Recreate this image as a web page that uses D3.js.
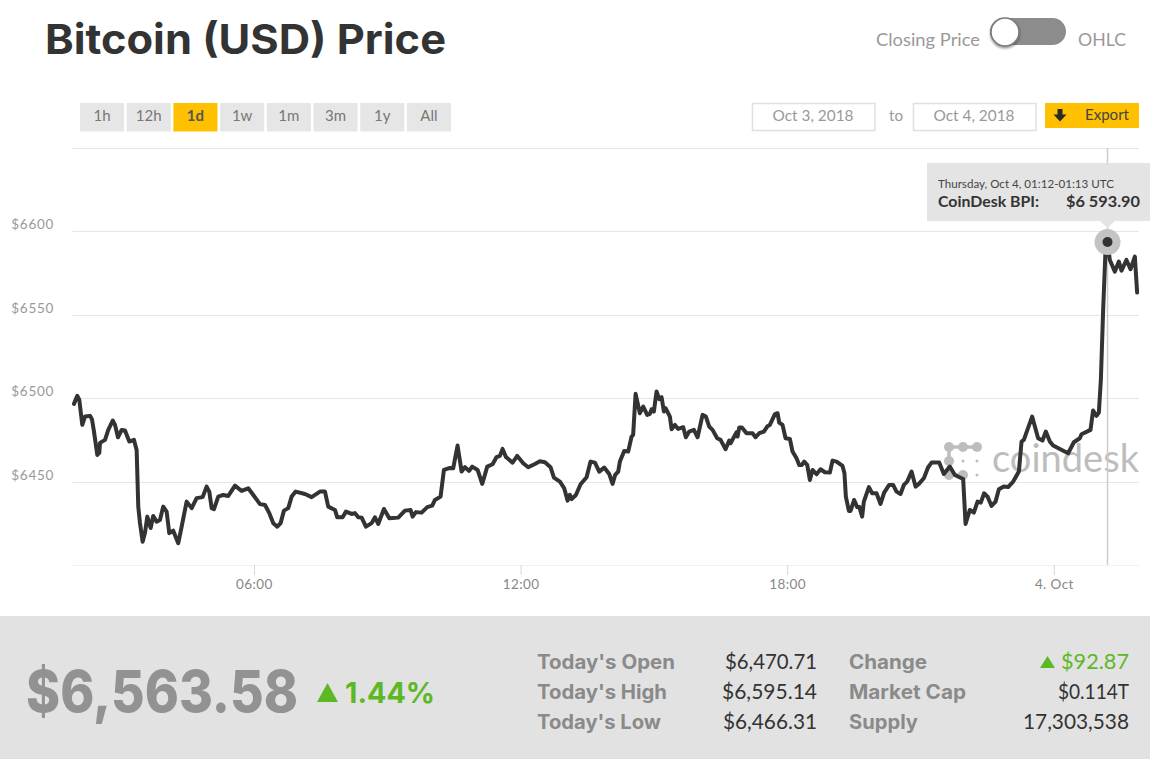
<!DOCTYPE html>
<html><head><meta charset="utf-8">
<script src="https://cdn.jsdelivr.net/npm/d3@7"></script>
<style>html,body{margin:0;padding:0;background:#fff}svg{display:block}text{font-family:Lato,"Open Sans",sans-serif}.heavy{font-family:Inter,Lato,sans-serif}</style>
</head><body><svg id="c" width="1150" height="759"></svg>
<script>
// minutes since 2018-10-03 00:00 UTC
const minutes = [117,121.5,124.2,128.2,131.9,138.6,141.3,144,148.5,151.2,152.1,158.9,163.3,169.3,172.4,176.4,181.4,185.9,191.7,198,201.6,203.8,206.1,209.7,212.9,216,220.5,224,228.6,233.1,237.5,242.1,245.7,251,257.8,262.4,269.1,275.9,282.6,290.7,296.1,299.7,302.9,306,311.8,318.6,325.3,334.4,343.4,352.3,359.1,368.1,374.9,380.7,386.1,391.5,396,400.5,406.3,410.9,416.3,428.9,437.9,449.1,455.9,460.3,469.4,472.5,479.7,484.2,491.9,496.4,500.8,505.4,511.2,518.9,523.4,527.8,535.5,542.7,554.8,563.9,571.5,574.2,578.7,586.4,594,600.7,604.4,612,616.5,624.6,629,634.9,640.4,644.9,650.3,654.7,662,668.2,675,682.2,687.6,692.1,695.7,700.2,709.2,715.5,723.6,730.3,739.4,746.1,752.9,760.5,765,773.1,778.9,783.5,786.6,788.9,794.7,801,809.1,814.5,820.4,826.2,832.9,839.7,844.2,847.7,851.8,854.1,859.9,865.3,869.9,872,875.3,881.1,885.6,891,894.6,896.9,900,903.6,907.2,910.4,913.5,915.8,921.6,923.9,928.4,932.8,939.6,943.2,947.7,954,959,965.7,970.2,974.7,979.2,985.5,990,996.8,1001.7,1003.5,1011.6,1013,1015.2,1018.8,1025.1,1033.2,1037.3,1042.2,1048.5,1053,1056.6,1063.4,1067,1069.2,1073.7,1077.8,1083.6,1087.2,1092.6,1096.2,1099.8,1102.9,1107,1110.6,1114.2,1119.6,1125,1130.9,1137.6,1141.2,1146.6,1154.7,1157.3,1159.2,1163.3,1165.5,1170.4,1174.5,1177.4,1181.2,1183.5,1190.3,1194.7,1200.6,1206,1210.9,1217.7,1223,1227.6,1233,1237.5,1242,1247.9,1253.3,1257.8,1264.5,1270.3,1274.9,1285.2,1291.5,1299.6,1306.4,1317.6,1320.8,1326.6,1332,1337,1341.4,1345.9,1350.5,1355.9,1361.3,1365.8,1372.5,1378.3,1385.1,1392.8,1396.4,1399.5,1410.7,1418.8,1424.7,1429.2,1434.6,1439,1459.3,1467,1475.1,1477.4,1489.5,1493,1497.6,1500.8,1503.5,1506.6,1509.8,1512.5,1515.6,1522.4,1527.8,1531.4,1538.1,1543.5,1549.4,1552.5];
const prices = [6496.9,6501.7,6499.3,6484.3,6489.3,6489.7,6487.7,6480.3,6466.3,6467.5,6473.5,6475.3,6481.3,6486.9,6484.3,6476.9,6481.3,6480.9,6474.3,6475.3,6469.3,6435.3,6425.5,6414.3,6419.6,6429.3,6422.5,6429.7,6426.3,6427.3,6435.3,6432.3,6419.4,6420.9,6413.4,6423.3,6438.3,6434.4,6440.4,6441,6447.3,6444.3,6434.4,6433.8,6441.3,6442.3,6441.7,6447.9,6444.7,6446.3,6442.3,6436.8,6436.3,6431.4,6425.4,6423.3,6425.4,6432.9,6434.4,6441.3,6444.3,6442.9,6441,6444.3,6444.3,6435.3,6433.3,6428.9,6428.9,6432.3,6430.9,6431.4,6428.9,6428.7,6423.3,6425.4,6428.9,6424.9,6433.9,6428.4,6428.7,6432.9,6433.3,6429.3,6432,6431.7,6435,6435.9,6439.3,6441.3,6457.3,6458.5,6458.3,6471.9,6456.3,6459,6456.7,6459.3,6457.3,6448.9,6459.3,6460.7,6465,6465.7,6469.9,6465,6461.7,6465.7,6461.3,6458.9,6460.9,6462.5,6461.9,6458.9,6452.7,6450.3,6446.3,6438.9,6442.3,6439.8,6442.3,6448.7,6452.9,6462.3,6461.7,6456.3,6458.7,6454.9,6448.9,6454.3,6456.3,6462.3,6468.7,6468.3,6477.3,6478.3,6502.9,6491.3,6495.3,6490.3,6490.9,6493.7,6492.3,6504.3,6499.7,6500.9,6492.3,6494.3,6489.3,6481.7,6484.3,6481.9,6482.9,6476.9,6480.3,6481.3,6476.9,6490.3,6489.3,6483.3,6481.3,6476.3,6475.3,6469.7,6474.9,6473.3,6479.9,6477.3,6482.7,6482.7,6479.3,6479.3,6476.9,6479.3,6480.3,6483.3,6484.3,6490.7,6491.3,6485.7,6484.3,6476.3,6475.9,6468.3,6464.3,6460.3,6460.3,6462.3,6460.3,6451.3,6457.3,6454.7,6457.7,6455.9,6455.7,6462.9,6462.3,6459.7,6455.3,6441.3,6432.7,6432.7,6439.3,6435,6435.1,6429.3,6438.3,6447,6443.3,6443.3,6436.9,6443.7,6448.3,6448.3,6444.3,6442.9,6448.3,6450.3,6456.3,6447.3,6448.9,6452.3,6458.9,6461.7,6461.7,6454.9,6459.3,6454.3,6451.9,6424.9,6433.3,6431.7,6438.3,6437.7,6443.3,6441.3,6435.7,6438.3,6445.7,6447.3,6447,6450.3,6456.3,6474.3,6475.3,6489.3,6476.3,6474.9,6480.3,6474.3,6471.9,6467.3,6473.9,6476.3,6478.7,6481.3,6492.9,6489.7,6491.7,6511.3,6553.3,6589.2,6593.9,6583.2,6576.2,6582.2,6576.8,6583.2,6577.6,6585.2,6563.6];

const priceTicks = [6450,6500,6550,6600];
const gridValues = [6400,6450,6500,6550,6600,6650];
const timeTicks = [360,720,1080,1440];
const timeLabels = ["06:00","12:00","18:00","4. Oct"];
const rangeButtons = ["1h","12h","1d","1w","1m","3m","1y","All"];
const activeButton = "1d";
const hoverMinute = 1512.5, hoverPrice = 6593.9;
const statLabelsLeft = ["Today's Open","Today's High","Today's Low"];
const statValuesLeft = ["$6,470.71","$6,595.14","$6,466.31"];
const statLabelsRight = ["Change","Market Cap","Supply"];
const statValuesRight = ["$92.87","$0.114T","17,303,538"];
const labelWidthsLeft = [138,130,124];
const labelWidthsRight = [78,117,69];
const valueWidthsLeft = [92,95,94];
const valueWidthsRight = [68,71,106];

const svg = d3.select("#c");
const x = d3.scaleLinear().domain([115,1555]).range([72.5,1139]);
const y = d3.scaleLinear().domain([6400,6650]).range([565.5,148.5]);

function T(s,px,py,size,fill,opts){
  opts=opts||{};
  const t=svg.append("text").attr("x",px).attr("y",py).attr("font-size",size).attr("fill",fill).text(s);
  if(opts.weight)t.attr("font-weight",opts.weight);
  if(opts.anchor)t.attr("text-anchor",opts.anchor);
  if(opts.cls)t.attr("class",opts.cls);
  if(opts.len)t.attr("textLength",opts.len).attr("lengthAdjust","spacingAndGlyphs");
  return t;
}

// header
T("Bitcoin (USD) Price",45,54,41.5,"#333",{weight:700,len:401,cls:"heavy"});
T("Closing Price",876,46,17,"#999",{len:104});
T("OHLC",1078,46,17,"#999",{len:48});
svg.append("rect").attr("x",990).attr("y",18).attr("width",76).attr("height",27).attr("rx",13.5).attr("fill","#8c8c8c");
const defs=svg.append("defs");
const f=defs.append("filter").attr("id","sh").attr("x","-30%").attr("y","-30%").attr("width","160%").attr("height","160%");
f.append("feDropShadow").attr("dx",0).attr("dy",1.5).attr("stdDeviation",1.2).attr("flood-color","#000").attr("flood-opacity",.45);
svg.append("circle").attr("cx",1005).attr("cy",32).attr("r",14).attr("fill","#fff").attr("stroke","#7a7a7a").attr("stroke-width",1.5).attr("filter","url(#sh)");

// range buttons
const bx=d3.scaleBand().domain(rangeButtons).range([80,451]).paddingInner(0.057).paddingOuter(0);
rangeButtons.forEach(b=>{
  const on=b===activeButton;
  svg.append("rect").attr("x",bx(b)).attr("y",103).attr("width",bx.bandwidth()).attr("height",28.5).attr("fill",on?"#ffc000":"#e6e6e6");
  T(b,bx(b)+bx.bandwidth()/2,121,15,on?"#555":"#777",{anchor:"middle",weight:on?700:400});
});

// date inputs & export
[[752,"Oct 3, 2018"],[913,"Oct 4, 2018"]].forEach(d=>{
  svg.append("rect").attr("x",d[0]+.5).attr("y",103.5).attr("width",122.5).attr("height",27).attr("fill","#fff").attr("stroke","#e0e0e0").attr("stroke-width",1.5);
  T(d[1],d[0]+61,121,16,"#999",{anchor:"middle",len:81});
});
T("to",889,121,16,"#999",{len:14});
svg.append("rect").attr("x",1045).attr("y",103).attr("width",94).attr("height",25).attr("fill","#ffc000");
svg.append("path").attr("d","M1057.5 109h5v5.5h4l-6.5 7-6.5-7h4z").attr("fill","#2a2a2a");
T("Export",1085,120,15,"#444",{len:44});

// grid
const gridG=svg.append("g");
gridG.selectAll("line").data(gridValues).join("line")
  .attr("x1",x.range()[0]).attr("x2",x.range()[1])
  .attr("y1",d=>Math.floor(y(d))+.5).attr("y2",d=>Math.floor(y(d))+.5)
  .attr("stroke",d=>d===6400?"#f2f2f2":"#e6e6e6").attr("stroke-width",1);

// y axis labels
const yAxis=svg.append("g").attr("transform","translate(54,0)")
  .call(d3.axisLeft(y).tickValues(priceTicks).tickSize(0).tickPadding(0).tickFormat(d=>"$"+d));
yAxis.select(".domain").remove();
yAxis.selectAll("text").attr("dy",-3).attr("font-size",13.5).attr("fill","#999").attr("letter-spacing",0.7).style("font-family","Lato,sans-serif");

// x axis
const xAxis=svg.append("g").attr("transform","translate(0,565)")
  .call(d3.axisBottom(x).tickValues(timeTicks).tickSize(10).tickPadding(4).tickFormat((d,i)=>timeLabels[i]));
xAxis.select(".domain").remove();
xAxis.selectAll("line").attr("stroke","#ccd6eb");
xAxis.selectAll("text").attr("font-size",13.5).attr("fill","#888").attr("letter-spacing",0.4).style("font-family","Lato,sans-serif");

// watermark
const wm="#bdbdbd";
svg.append("path").attr("d","M949 447H977M949 447V475H963").attr("fill","none").attr("stroke",wm).attr("stroke-width",3.5);
[[949,447],[963,447],[977,447],[949,461],[949,475],[963,475]].forEach(p=>svg.append("circle").attr("cx",p[0]).attr("cy",p[1]).attr("r",5).attr("fill",wm));
[[963,461],[977,461],[977,475]].forEach(p=>svg.append("circle").attr("cx",p[0]).attr("cy",p[1]).attr("r",1.5).attr("fill",wm));
T("coindesk",992,472,39,wm,{len:147});

// crosshair
svg.append("line").attr("x1",x(hoverMinute)).attr("x2",x(hoverMinute)).attr("y1",148).attr("y2",565).attr("stroke","#ccc").attr("stroke-width",1.5);

// price line
const line=d3.line().x((d,i)=>x(minutes[i])).y(d=>y(d));
svg.append("path").datum(prices).attr("d",line).attr("fill","none").attr("stroke","#333").attr("stroke-width",4).attr("stroke-linejoin","round").attr("stroke-linecap","round");

// hover marker
svg.append("circle").attr("cx",x(hoverMinute)).attr("cy",y(hoverPrice)).attr("r",13).attr("fill","#c4c4c4");
svg.append("circle").attr("cx",x(hoverMinute)).attr("cy",y(hoverPrice)).attr("r",5).attr("fill","#333");

// tooltip
svg.append("path").attr("d","M927 163H1150V221H1115L1107.5 228L1100 221H927Z").attr("fill","#e4e4e4");
T("Thursday, Oct 4, 01:12-01:13 UTC",938,188,11.5,"#444",{len:176});
T("CoinDesk BPI:",938,207,15,"#333",{weight:700,len:101});
T("$6 593.90",1140,207,16,"#333",{weight:700,anchor:"end",len:74});

// footer panel
svg.append("rect").attr("x",0).attr("y",616).attr("width",1150).attr("height",143).attr("fill","#e2e2e2");
T("$6,563.58",26,712,58,"#929292",{weight:800,len:272,cls:"heavy"});
svg.append("path").attr("d","M317 702L327.5 683L338 702Z").attr("fill","#5cb825");
T("1.44%",345,703,29,"#5cb825",{weight:700,len:90,cls:"heavy"});
const rowY=[669,699,729];
statLabelsLeft.forEach((s,i)=>T(s,537,rowY[i],19.5,"#8a8a8a",{weight:700,len:labelWidthsLeft[i],cls:"heavy"}));
statValuesLeft.forEach((s,i)=>T(s,817,rowY[i],20.5,"#333",{anchor:"end",len:valueWidthsLeft[i]}));
statLabelsRight.forEach((s,i)=>T(s,849,rowY[i],19.5,"#8a8a8a",{weight:700,len:labelWidthsRight[i],cls:"heavy"}));
statValuesRight.forEach((s,i)=>T(s,1129,rowY[i],20.5,i===0?"#5cb825":"#333",{anchor:"end",len:valueWidthsRight[i]}));
svg.append("path").attr("d","M1040 668L1047.5 656L1055 668Z").attr("fill","#5cb825");
</script></body></html>
